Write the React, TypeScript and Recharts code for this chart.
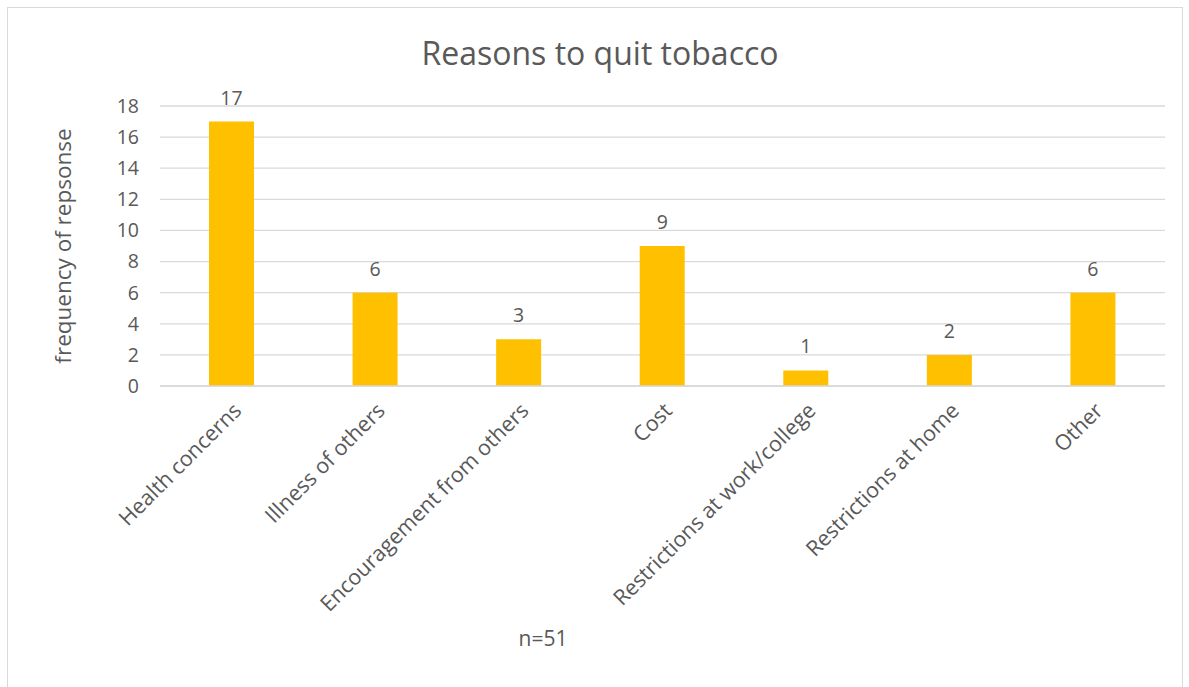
import React from "react";
import { BarChart, Bar, CartesianGrid, XAxis, YAxis, LabelList } from "recharts";

const categories = [
  "Health concerns",
  "Illness of others",
  "Encouragement from others",
  "Cost",
  "Restrictions at work/college",
  "Restrictions at home",
  "Other",
];
const responses = [17, 6, 3, 9, 1, 2, 6];
const yTicks = [0, 2, 4, 6, 8, 10, 12, 14, 16, 18];

const data = categories.map((name, i) => ({ name, value: responses[i] }));

const FONT = "'Open Sans', sans-serif";
const TEXT = "#595959";

const RotatedTick = ({ x, y, payload }: any) => (
  <text
    x={x + 11}
    y={y + 18}
    transform={`rotate(-45, ${x + 11}, ${y + 18})`}
    textAnchor="end"
    fill={TEXT}
    fontSize={21.5}
    fontFamily={FONT}
  >
    {payload.value}
  </text>
);

const AxisTitle = ({ viewBox }: any) => {
  const cx = 54;
  const cy = viewBox.y + viewBox.height / 2;
  return (
    <text
      x={cx}
      y={cy}
      transform={`rotate(-90, ${cx}, ${cy})`}
      textAnchor="middle"
      dominantBaseline="central"
      fill={TEXT}
      fontSize={22.5}
      fontFamily={FONT}
    >
      frequency of repsonse
    </text>
  );
};

export default function App() {
  return (
    <div
      style={{
        position: "absolute",
        left: 7,
        top: 7,
        width: 1174,
        height: 690,
        border: "1px solid #d9d9d9",
        background: "#fff",
      }}
    >
      <BarChart
        width={1174}
        height={680}
        data={data}
        margin={{ top: 98, right: 17, bottom: 102, left: 92 }}
      >
        <text
          x={592}
          y={44}
          textAnchor="middle"
          dominantBaseline="central"
          fill={TEXT}
          fontSize={32}
          fontFamily={FONT}
        >
          Reasons to quit tobacco
        </text>
        <CartesianGrid vertical={false} stroke="#d9d9d9" strokeWidth={1.3} />
        <XAxis
          dataKey="name"
          interval={0}
          height={200}
          axisLine={{ stroke: "#d9d9d9", strokeWidth: 1.3 }}
          tickLine={false}
          tick={<RotatedTick />}
        />
        <YAxis
          width={60}
          domain={[0, 18]}
          ticks={yTicks}
          axisLine={false}
          tickLine={false}
          tickSize={0}
          tickMargin={21}
          tick={{ fill: TEXT, fontSize: 19.5, fontFamily: FONT }}
          label={<AxisTitle />}
        />
        <Bar dataKey="value" fill="#ffc000" barSize={45} isAnimationActive={false}>
          <LabelList
            dataKey="value"
            position="top"
            offset={17}
            fill={TEXT}
            fontSize={19.5}
            fontFamily={FONT}
          />
        </Bar>
        <text
          x={535}
          y={630}
          textAnchor="middle"
          dominantBaseline="central"
          fill={TEXT}
          fontSize={21}
          fontFamily={FONT}
        >
          n=51
        </text>
      </BarChart>
    </div>
  );
}
